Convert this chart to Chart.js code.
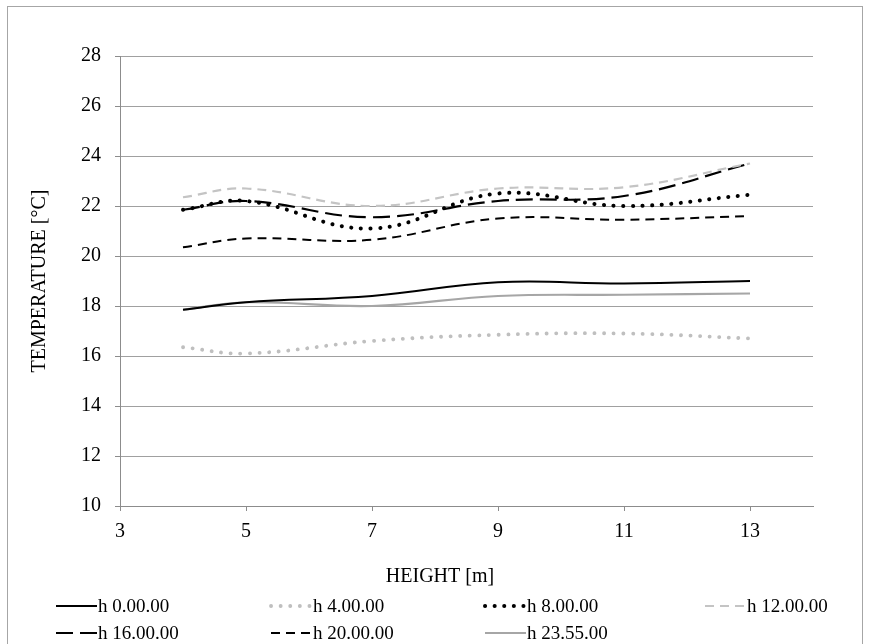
<!DOCTYPE html>
<html>
<head>
<meta charset="utf-8">
<title>Temperature by height</title>
<script src="https://cdn.jsdelivr.net/npm/chart.js@4.4.1/dist/chart.umd.min.js"></script>
<style>
  html, body { margin: 0; padding: 0; background: #ffffff; }
  #wrap { position: relative; width: 869px; height: 644px; }
</style>
</head>
<body>
<div id="wrap"><canvas id="chart" width="869" height="644"></canvas></div>
<script>
// Measurement heights [m]
const heights = [4, 5, 7, 9, 11, 13];

// Temperatures [°C] recorded at each time of day
const t0000 = [17.85, 18.15, 18.4, 18.95, 18.9, 19.0];
const t0400 = [16.35, 16.1, 16.6, 16.85, 16.9, 16.7];
const t0800 = [21.85, 22.2, 21.1, 22.5, 22.0, 22.45];
const t1200 = [22.35, 22.7, 22.0, 22.7, 22.75, 23.7];
const t1600 = [21.85, 22.2, 21.55, 22.2, 22.4, 23.7];
const t2000 = [20.35, 20.7, 20.65, 21.5, 21.45, 21.6];
const t2355 = [17.85, 18.15, 18.0, 18.4, 18.45, 18.5];

const seriesNames = ['h 0.00.00', 'h 4.00.00', 'h 8.00.00', 'h 12.00.00', 'h 16.00.00', 'h 20.00.00', 'h 23.55.00'];

// Axis ticks and titles
const xTicks = [3, 5, 7, 9, 11, 13];
const yTicks = [10, 12, 14, 16, 18, 20, 22, 24, 26, 28];
const xTitle = 'HEIGHT [m]';
const yTitle = 'TEMPERATURE [°C]';

const FONT = "'Liberation Serif', 'Times New Roman', serif";

function pts(values) {
  return heights.map((h, i) => ({ x: h, y: values[i] }));
}

const styles = [
  { color: '#000000', width: 2,   dash: [],         cap: 'butt' },
  { color: '#bfbfbf', width: 3.8, dash: [0.1, 9.5], cap: 'round' },
  { color: '#000000', width: 4,   dash: [0.1, 9.5], cap: 'round' },
  { color: '#c4c4c4', width: 2.2, dash: [9, 6],     cap: 'butt' },
  { color: '#000000', width: 2.2, dash: [17, 7],    cap: 'butt' },
  { color: '#000000', width: 2,   dash: [9, 6],     cap: 'butt' },
  { color: '#a6a6a6', width: 2.2, dash: [],         cap: 'butt' }
];

const allValues = [t0000, t0400, t0800, t1200, t1600, t2000, t2355];

const datasets = allValues.map((vals, i) => ({
  label: seriesNames[i],
  data: pts(vals),
  borderColor: styles[i].color,
  backgroundColor: styles[i].color,
  borderWidth: styles[i].width,
  borderDash: styles[i].dash,
  borderCapStyle: styles[i].cap,
  pointRadius: 0,
  pointHoverRadius: 0,
  tension: 0.4,
  fill: false
}));

// Outer frame around the whole figure
const framePlugin = {
  id: 'frame',
  beforeDraw(chart) {
    const ctx = chart.ctx;
    ctx.save();
    ctx.fillStyle = '#ffffff';
    ctx.fillRect(0, 0, chart.width, chart.height);
    ctx.strokeStyle = '#a6a6a6';
    ctx.lineWidth = 1;
    ctx.strokeRect(7.5, 6.5, 855, 660);
    ctx.restore();
  }
};

// Horizontal axis title, centred on the figure rather than the plot area
const xTitlePlugin = {
  id: 'xTitle',
  afterDraw(chart) {
    const ctx = chart.ctx;
    ctx.save();
    ctx.font = '20px ' + FONT;
    ctx.fillStyle = '#000000';
    ctx.textAlign = 'center';
    ctx.textBaseline = 'middle';
    ctx.fillText(xTitle, 440, 577);
    ctx.restore();
  }
};

// Legend laid out on a fixed 4-column grid below the axis title
const gridLegend = {
  id: 'gridLegend',
  afterDraw(chart) {
    const ctx = chart.ctx;
    const colX = [56, 271, 485, 705];
    const rowY = [606, 633];
    const sampleLen = 41;
    ctx.save();
    ctx.font = '19px ' + FONT;
    ctx.textBaseline = 'middle';
    ctx.fillStyle = '#000000';
    chart.data.datasets.forEach((ds, i) => {
      const col = i % 4, row = Math.floor(i / 4);
      const x = colX[col], y = rowY[row];
      ctx.save();
      ctx.strokeStyle = ds.borderColor;
      ctx.lineWidth = ds.borderWidth;
      ctx.lineCap = ds.borderCapStyle;
      ctx.setLineDash(ds.borderDash);
      ctx.beginPath();
      ctx.moveTo(x, y);
      ctx.lineTo(x + sampleLen, y);
      ctx.stroke();
      ctx.restore();
      ctx.fillText(ds.label, x + sampleLen + 1, y + 1);
    });
    ctx.restore();
  }
};

new Chart(document.getElementById('chart'), {
  type: 'line',
  data: { datasets },
  plugins: [framePlugin, xTitlePlugin, gridLegend],
  options: {
    responsive: false,
    animation: false,
    events: [],
    layout: { padding: { left: 0, right: 56, top: 56, bottom: 0 } },
    plugins: {
      legend: { display: false },
      tooltip: { enabled: false }
    },
    scales: {
      x: {
        type: 'linear',
        min: 3,
        max: 14,
        afterBuildTicks(scale) { scale.ticks = xTicks.map(v => ({ value: v })); },
        afterFit(scale) { scale.height = 138; },
        ticks: {
          color: '#000000',
          font: { family: FONT, size: 20 },
          padding: 9,
          maxRotation: 0,
          autoSkip: false
        },
        grid: {
          drawOnChartArea: false,
          drawTicks: true,
          tickLength: 5,
          tickColor: '#8c8c8c'
        },
        border: { color: '#8c8c8c', width: 1 },
        title: { display: false }
      },
      y: {
        type: 'linear',
        min: 10,
        max: 28,
        afterBuildTicks(scale) { scale.ticks = yTicks.map(v => ({ value: v })); },
        afterFit(scale) { scale.width = 120; },
        ticks: {
          color: '#000000',
          font: { family: FONT, size: 20 },
          padding: 14
        },
        grid: {
          color: '#a0a0a0',
          lineWidth: 1,
          drawTicks: true,
          tickLength: 5,
          tickColor: '#8c8c8c'
        },
        border: { color: '#8c8c8c', width: 1 },
        title: {
          display: true,
          text: yTitle,
          color: '#000000',
          font: { family: FONT, size: 20 },
          padding: { top: 28, bottom: 0 }
        }
      }
    }
  }
});
</script>
</body>
</html>
